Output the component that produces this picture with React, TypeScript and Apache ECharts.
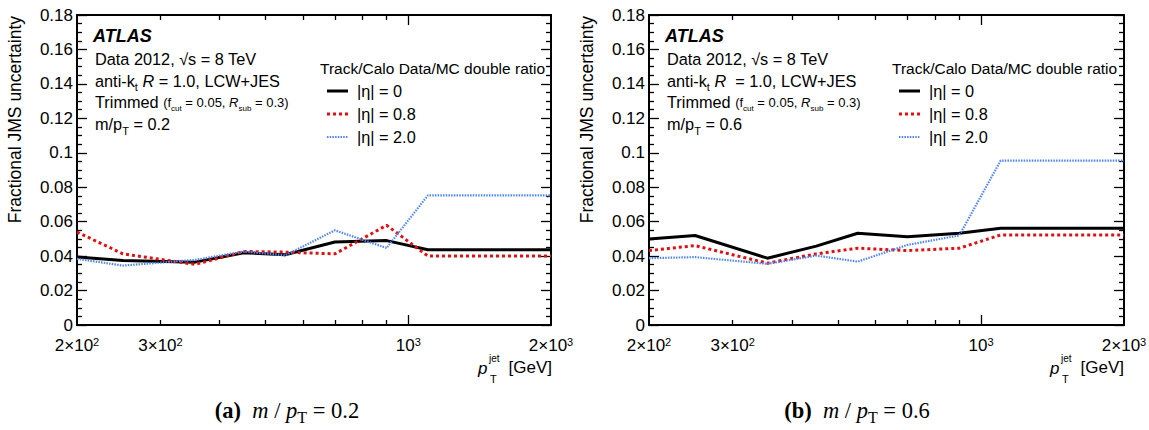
import React, { useEffect, useRef } from "react";
import * as echarts from "echarts";

// ---- data ----
const PT_GEV = [200, 250, 355, 450, 550, 700, 900, 1100, 2000];

// (a) m/pT = 0.2
const ETA0_A = [0.0395, 0.0374, 0.0365, 0.042, 0.0408, 0.0482, 0.049, 0.0437, 0.0437];
const ETA08_A = [0.054, 0.0413, 0.0352, 0.0427, 0.0423, 0.0413, 0.0579, 0.04, 0.04];
const ETA20_A = [0.0384, 0.0345, 0.0378, 0.0427, 0.0404, 0.055, 0.0447, 0.0753, 0.0753];

// (b) m/pT = 0.6
const ETA0_B = [0.05, 0.052, 0.0388, 0.0458, 0.0533, 0.0513, 0.0533, 0.0562, 0.0562];
const ETA08_B = [0.0432, 0.0461, 0.0359, 0.0413, 0.0446, 0.0432, 0.0446, 0.0523, 0.0523];
const ETA20_B = [0.0388, 0.0394, 0.0355, 0.0403, 0.0368, 0.0465, 0.052, 0.0955, 0.0955];

const SERIES_NAMES = ["|η| = 0", "|η| = 0.8", "|η| = 2.0"];
const MASS_RATIOS = ["0.2", "0.6"];
const PANEL_TAGS = ["(a)", "(b)"];

const X_MIN = 200;
const X_MAX = 2000;
const X_LABEL_VALUES = [200, 300, 1000, 2000];
const X_MINOR_TICKS = [300, 400, 500, 600, 700, 800, 900];
const X_MAJOR_TICKS = [1000];
const Y_MIN = 0;
const Y_MAX = 0.18;
const Y_INTERVAL = 0.02;

const SANS = "'Liberation Sans', Arial, Helvetica, sans-serif";
const SERIF = "'Liberation Serif', 'Times New Roman', serif";

const LINE_STYLES = [
  { color: "#000000", width: 3, type: "solid" as any },
  { color: "#dd1111", width: 3, type: [3, 3] as any },
  { color: "#4f86f0", width: 2.2, type: [1.5, 1.2] as any },
];

const lg = (v: number) => Math.log10(v);

export default function App() {
  const ref = useRef<HTMLDivElement>(null);

  useEffect(() => {
    if (!ref.current) return;
    const chart = echarts.init(ref.current, undefined, { renderer: "svg" });

    const panels = [
      { data: [ETA0_A, ETA08_A, ETA20_A], dx: 0 },
      { data: [ETA0_B, ETA08_B, ETA20_B], dx: 572 },
    ];

    const grids = [
      { left: 77, right: 598, top: 15, bottom: 105 },
      { left: 649, right: 25, top: 15, bottom: 105 },
    ].map((g) => ({ ...g, containLabel: false, outerBoundsMode: "none" }));

    const xLabelFormatter = (v: number) => {
      const p = Math.round(Math.pow(10, v));
      const e = Math.floor(lg(p) + 1e-9);
      const m = Math.round(p / Math.pow(10, e));
      return m === 1 ? `10{sup|${e}}` : `${m}×10{sup|${e}}`;
    };

    const xAxes: any[] = [];
    const yAxes: any[] = [];
    const series: any[] = [];

    panels.forEach((panel, g) => {
      const base = {
        type: "value",
        gridIndex: g,
        min: lg(X_MIN),
        max: lg(X_MAX),
        splitLine: { show: false },
      };
      const mainIndex = xAxes.length;
      xAxes.push({
        ...base,
        position: "bottom",
        axisLine: { show: true, onZero: false, lineStyle: { color: "#000", width: 2 } },
        axisTick: {
          show: true,
          inside: true,
          length: 10,
          customValues: X_MAJOR_TICKS.map(lg),
          lineStyle: { color: "#000", width: 1.3 },
        },
        axisLabel: {
          show: true,
          customValues: X_LABEL_VALUES.map(lg),
          formatter: xLabelFormatter,
          color: "#000",
          fontFamily: SANS,
          fontSize: 17,
          lineHeight: 18,
          margin: 11,
          rich: {
            sup: { fontSize: 11, fontFamily: SANS, color: "#000", verticalAlign: "top", lineHeight: 18 },
          },
        },
      });
      xAxes.push({
        ...base,
        position: "bottom",
        axisLine: { show: false, onZero: false },
        axisTick: {
          show: true,
          inside: true,
          length: 5,
          customValues: X_MINOR_TICKS.map(lg),
          lineStyle: { color: "#000", width: 1.3 },
        },
        axisLabel: { show: false },
      });
      xAxes.push({
        ...base,
        position: "top",
        axisLine: { show: true, onZero: false, lineStyle: { color: "#000", width: 2 } },
        axisTick: {
          show: true,
          inside: true,
          length: 10,
          customValues: X_MAJOR_TICKS.map(lg),
          lineStyle: { color: "#000", width: 1.3 },
        },
        axisLabel: { show: false },
      });
      xAxes.push({
        ...base,
        position: "top",
        axisLine: { show: false, onZero: false },
        axisTick: {
          show: true,
          inside: true,
          length: 5,
          customValues: X_MINOR_TICKS.map(lg),
          lineStyle: { color: "#000", width: 1.3 },
        },
        axisLabel: { show: false },
      });

      const yBase = {
        type: "value",
        gridIndex: g,
        min: Y_MIN,
        max: Y_MAX,
        interval: Y_INTERVAL,
        splitLine: { show: false },
        axisLine: { show: true, onZero: false, lineStyle: { color: "#000", width: 2 } },
        axisTick: { show: true, inside: true, length: 10, lineStyle: { color: "#000", width: 1.3 } },
        minorTick: { show: true, splitNumber: 4, length: 5, lineStyle: { color: "#000", width: 1.3 } },
      };
      const yIndex = yAxes.length;
      yAxes.push({
        ...yBase,
        position: "left",
        axisLabel: {
          show: true,
          color: "#000",
          fontFamily: SANS,
          fontSize: 17,
          lineHeight: 17,
          margin: 4,
          formatter: (v: number) => String(+v.toFixed(2)),
        },
      });
      yAxes.push({ ...yBase, position: "right", axisLabel: { show: false } });

      panel.data.forEach((vals, k) => {
        series.push({
          type: "line",
          name: SERIES_NAMES[k],
          xAxisIndex: mainIndex,
          yAxisIndex: yIndex,
          data: PT_GEV.map((p, i) => [lg(p), vals[i]]),
          showSymbol: false,
          symbol: "none",
          lineStyle: LINE_STYLES[k],
          z: 2 + k,
          silent: true,
        });
      });
    });

    const graphics: any[] = [];
    panels.forEach((panel, g) => {
      const dx = panel.dx;
      const t = (x: number, y: number, text: string, extra: any = {}) => ({
        type: "text",
        x: x + dx,
        y,
        style: {
          text,
          fill: "#000",
          fontFamily: SANS,
          fontSize: 16.3,
          verticalAlign: "middle",
          align: "left",
          ...extra,
        },
      });
      graphics.push({
        type: "text",
        x: 15 + dx,
        y: 16,
        rotation: Math.PI / 2,
        style: {
          text: "Fractional JMS uncertainty",
          fill: "#000",
          fontFamily: SANS,
          fontSize: 17.5,
          align: "right",
          verticalAlign: "middle",
        },
      });
      graphics.push(t(93, 36, "ATLAS", { fontSize: 18, fontWeight: "bold", fontStyle: "italic" }));
      graphics.push(t(95, 59, "Data 2012, √s = 8 TeV"));
      graphics.push(
        t(95, 81, g === 1 ? "anti-k{sub|t} {i|R}  = 1.0, LCW+JES" : "anti-k{sub|t} {i|R} = 1.0, LCW+JES", {
          lineHeight: 20,
          rich: {
            sub: { fontSize: 11, fontFamily: SANS, verticalAlign: "bottom", lineHeight: 22 },
            i: { fontSize: 16.3, fontFamily: SANS, fontStyle: "italic", lineHeight: 20 },
          },
        })
      );
      graphics.push(
        t(95, 102, "Trimmed {s|(f}{ss|cut}{s| = 0.05, }{si|R}{ss|sub}{s| = 0.3)}", {
          lineHeight: 20,
          rich: {
            s: { fontSize: 13, fontFamily: SANS, lineHeight: 20 },
            si: { fontSize: 13, fontFamily: SANS, fontStyle: "italic", lineHeight: 20 },
            ss: { fontSize: 8, fontFamily: SANS, verticalAlign: "bottom", lineHeight: 20 },
          },
        })
      );
      graphics.push(
        t(95, 124, `m/p{sub|T} = ${MASS_RATIOS[g]}`, {
          lineHeight: 20,
          rich: {
            sub: { fontSize: 11, fontFamily: SANS, verticalAlign: "bottom", lineHeight: 24 },
          },
        })
      );
      graphics.push(t(320, 68, "Track/Calo Data/MC double ratio", { fontSize: 15.5 }));
      SERIES_NAMES.forEach((name, k) => {
        const y = 91 + k * 23;
        const ls = LINE_STYLES[k];
        graphics.push({
          type: "line",
          shape: { x1: 327 + dx, y1: y, x2: 348 + dx, y2: y },
          style: {
            stroke: ls.color,
            lineWidth: ls.width,
            lineDash: Array.isArray(ls.type) ? ls.type : null,
          },
        });
        graphics.push(t(357, y, name, { fontSize: 16.3 }));
      });
      graphics.push(t(478, 368, "p", { fontSize: 17, fontStyle: "italic" }));
      graphics.push(t(489, 358, "jet", { fontSize: 10 }));
      graphics.push(t(490, 379, "T", { fontSize: 11 }));
      graphics.push(t(552, 367, "[GeV]", { fontSize: 17, align: "right" }));
      graphics.push({
        type: "text",
        x: 287 + dx - (g === 1 ? 2 : 0),
        y: 410,
        style: {
          text: `{b|${PANEL_TAGS[g]}}  {i|m} / {i|p}{sub|T} = ${MASS_RATIOS[g]}`,
          fill: "#000",
          fontFamily: SERIF,
          fontSize: 22.5,
          align: "center",
          verticalAlign: "middle",
          lineHeight: 26,
          rich: {
            b: { fontFamily: SERIF, fontSize: 22.5, fontWeight: "bold", lineHeight: 26 },
            i: { fontFamily: SERIF, fontSize: 22.5, fontStyle: "italic", lineHeight: 26 },
            sub: { fontFamily: SERIF, fontSize: 16, verticalAlign: "bottom", lineHeight: 30 },
          },
        },
      });
    });

    chart.setOption({
      animation: false,
      backgroundColor: "#ffffff",
      grid: grids,
      xAxis: xAxes,
      yAxis: yAxes,
      series,
      graphic: graphics,
    });

    return () => chart.dispose();
  }, []);

  return (
    <div
      ref={ref}
      style={{ position: "fixed", left: 0, top: 0, width: 1149, height: 430, background: "#fff" }}
    />
  );
}
